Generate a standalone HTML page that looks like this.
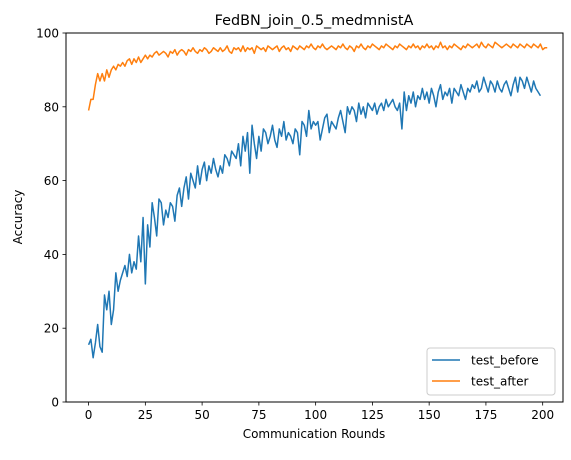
<!DOCTYPE html>
<html><head><meta charset="utf-8"><style>
body{margin:0;background:#fff;}
svg text{font-family:"DejaVu Sans","Liberation Sans",sans-serif;fill:#000;}
</style></head><body>
<svg id="chart" width="571" height="455" xmlns="http://www.w3.org/2000/svg">
<text x="314" y="25" font-size="14.4" text-anchor="middle">FedBN_join_0.5_medmnistA</text>
<g id="grid"></g>
<g id="series"></g>
<rect x="66" y="33" width="497" height="369" fill="none" stroke="#000" stroke-width="1"/>
<g id="axes"></g>
<text x="314" y="438" font-size="12" text-anchor="middle">Communication Rounds</text>
<text transform="translate(22,217) rotate(-90)" font-size="12" text-anchor="middle">Accuracy</text>
<g>
<rect x="427" y="348" width="128" height="47" rx="3" fill="#fff" fill-opacity="0.8" stroke="#ccc"/>
<line x1="432" y1="360" x2="460" y2="360" stroke="#1f77b4" stroke-width="1.5"/>
<text x="471" y="364.5" font-size="12">test_before</text>
<line x1="432" y1="381" x2="460" y2="381" stroke="#ff7f0e" stroke-width="1.5"/>
<text x="471" y="385.5" font-size="12">test_after</text>
</g>
</svg>
<script>
const xTicks=[0,25,50,75,100,125,150,175,200];
const yTicks=[0,20,40,60,80,100];
const testBefore=[15.5,17,12,16,21,15,13.5,29,25,30,21,25,35,30,33,35,37,34,40,35,38,36,45,38,50,32,48,42,54,50,45,55,54,48,52,50,54,53,49,56,58,53,58,61,55,62,60,58,64,59,63,65,60,64,62,66,63,61,64,62,67,66,64,68,67,66,70,64,72,68,73,62,75,70,66,72,68,74,73,70,72,75,71,69,74,72,76,71,73,72,70,74,73,67,76,75,72,79,74,76,75,76,71,74,77,78,73,76,75,74,77,79,76,73,80,78,80,79,76,81,78,80,77,81,80,79,81,78,80,81,79,82,80,81,82,80,79,81,74,84,79,83,81,84,80,83,82,85,82,84,81,85,83,80,84,86,82,84,83,85,81,85,84,83,86,84,82,85,84,86,85,87,84,85,88,86,84,87,86,84,87,85,84,86,87,85,83,86,88,84,88,87,85,88,86,84,87,85,84,83];
const testAfter=[79,82,82,86,89,87,89,87,90,88,90,91,90,91.5,91,92,91,92.5,93,91.5,93,92,93.5,92,93,94,93,94,93.5,94.5,95,94,94.5,95,94.5,93.5,95,94.5,95.5,94,95,95.5,95,94,95.5,95,96,95,94.5,95.5,95,96,95.5,94.5,95,96,95.5,95,96,95,95.5,96.5,95,94.5,96,95.5,96,95,96.5,95,96,95.5,96,94.5,96.5,96,95.5,96,95,96.5,96,95.5,96,96.5,95,96,96.5,95.5,96,95,96.5,96,95.5,96.5,96,95.5,96.5,96,97,96,95.5,96.5,96,97,96,95.5,96,96.5,96,95.5,96.5,96,97,96,95.5,96.5,96,95,96.5,96,97,96,95.5,96.5,96,97,96.5,96,95.5,96.5,96,97,96.5,96,95.5,96.5,96,97,96.5,96,95.5,96.5,96,97,96,96.5,95.5,96.5,96,97,96,96.5,95.5,96.5,96,97.5,96,96.5,95.5,96.5,96,97,96.5,96,95.5,96.5,96,97,96.5,96,96.5,97,96,97.5,96.5,96,97,96.5,96,97.5,97,96.5,96,96.5,97,96.5,96,97,96.5,96,97,96.5,96,97,96.5,96,97,96.5,96,97,95.5,96,96];
const NS="http://www.w3.org/2000/svg";
const L=66,R=563,T=33,B=402,XMIN=-9.95,XMAX=208.95;
function xs(v){return L+(v-XMIN)/(XMAX-XMIN)*(R-L);}
function ys(v){return B-(v/100)*(B-T);}
function mk(tag,attrs,parent){const e=document.createElementNS(NS,tag);for(const k in attrs)e.setAttribute(k,attrs[k]);parent.appendChild(e);return e;}
const axes=document.getElementById('axes');
xTicks.forEach(t=>{
  const l=mk('line',{x1:xs(t),x2:xs(t),y1:B,y2:B+3.5,stroke:'#000','stroke-width':0.8},axes);
  
  
  const tx=mk('text',{x:xs(t),y:B+17,'font-size':12,'text-anchor':'middle'},axes);
  tx.textContent=t;
  
  
});
yTicks.forEach(t=>{
  const l=mk('line',{x1:L-3.5,x2:L,y1:ys(t),y2:ys(t),stroke:'#000','stroke-width':0.8},axes);
  
  
  const tx=mk('text',{x:L-7,y:ys(t)+4.5,'font-size':12,'text-anchor':'end'},axes);
  tx.textContent=t;
  
  
});
const series=document.getElementById('series');
function line(data,color,name){
  const d=data.map((v,i)=>(i?'L':'M')+xs(i).toFixed(2)+','+ys(v).toFixed(2)).join(' ');
  const p=mk('path',{d:d,fill:'none',stroke:color,'stroke-width':1.5,'stroke-linejoin':'round'},series);
  
  
}
line(testBefore,'#1f77b4','test-before-line');
line(testAfter,'#ff7f0e','test-after-line');
</script>
</body></html>
